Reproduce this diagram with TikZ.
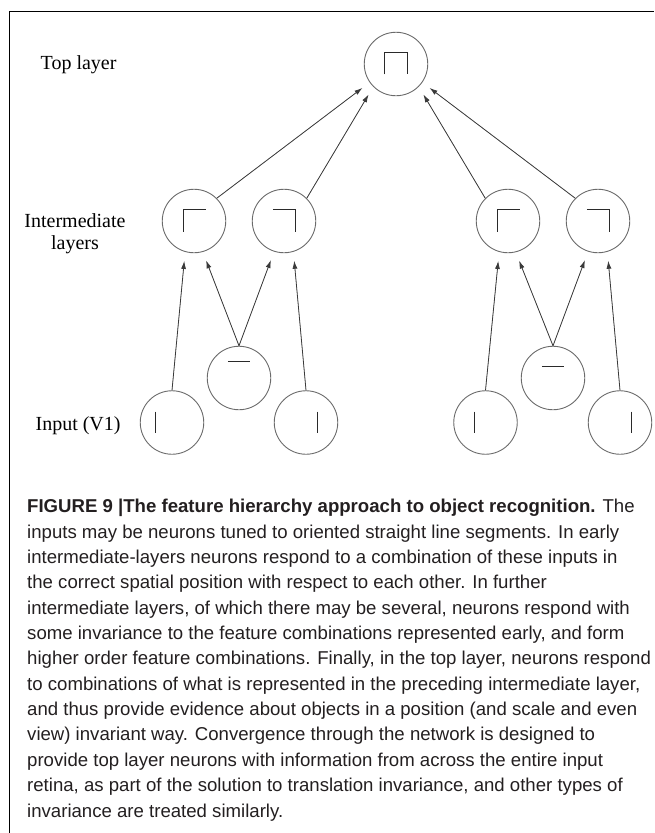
\documentclass[tikz,border=0pt]{standalone}
\usepackage{fontspec}
\setmainfont{Liberation Serif}
\newfontfamily\capfont{Liberation Sans}
\usepackage{tikz}
\usetikzlibrary{arrows.meta,calc}
\definecolor{rim}{HTML}{6B6B6B}
\definecolor{wire}{HTML}{3A3A3A}
\definecolor{ink}{HTML}{2A2A2A}
\definecolor{body}{HTML}{231F20}
\tikzset{
  neuron/.style = {circle, draw=rim, line width=0.9pt, minimum size=63.5pt,
                   inner sep=0pt},
  feat/.style   = {draw=ink, line width=1.4pt},
  lab/.style    = {font=\fontsize{20}{22}\selectfont, inner sep=0pt},
  up/.style     = {-{Latex[length=8pt,width=5pt]}, draw=wire, fill=wire,
                   line width=0.8pt, shorten >=9pt},
  note/.style   = {font=\capfont\fontsize{18.6}{25.35}\selectfont, text=body,
                   align=left, inner sep=0pt},
}
\begin{document}
\begin{tikzpicture}[x=1pt,y=-1pt]
    \useasboundingbox (0,0) rectangle (654,833);
    \draw[black,line width=0.9pt] (9.3,833) -- (9.3,11.7) -- (654,11.7);
    % layer names
    \node[lab,anchor=base west] (ltop) at (40.5,69) {Top layer};
    \node[lab,anchor=north,align=center] (lmid) at (75,213.3) {Intermediate\\layers};
    \node[lab,anchor=base west] (lin) at (35.4,430) {Input (V1)};
    % neurons
    \node[neuron] (top) at (396,64) {};
    \node[neuron] (i1) at (194,221) {};
    \node[neuron] (i2) at (284,221) {};
    \node[neuron] (i3) at (508,221) {};
    \node[neuron] (i4) at (598,221) {};
    \node[neuron] (m1) at (239,378) {};
    \node[neuron] (m2) at (553,378) {};
    \node[neuron] (in1) at (172,422.5) {};
    \node[neuron] (in2) at (306,422.5) {};
    \node[neuron] (in3) at (485.5,422.5) {};
    \node[neuron] (in4) at (620,422.5) {};
    % preferred features
    \draw[feat] ($(top)+(-11.7,10.3)$) -- ++(0,-22) -- ++(23.4,0) -- ++(0,22);
    \foreach \n in {i1,i3}{
      \draw[feat] ($(\n)+(-10.8,10.7)$) -- ++(0,-22.4) -- ++(22.5,0);}
    \foreach \n in {i2,i4}{
      \draw[feat] ($(\n)+(-11.2,-11.7)$) -- ++(22.6,0) -- ++(0,22.4);}
    \draw[feat] ($(m1)+(-11.2,-16.5)$) -- ++(22.4,0);
    \draw[feat] ($(m2)+(-11.2,-11.4)$) -- ++(22.4,0);
    \foreach \n/\dx in {in1/-16.5,in2/11.7,in3/-11.3,in4/11.7}{
      \draw[feat] ($(\n)+(\dx,-11)$) -- ++(0,21.8);}
    % convergence
    \draw[up] (i1.north east) -- (top.215);
    \draw[up] (i2.north east) -- (top.225);
    \draw[up] (i3.north west) -- (top.315);
    \draw[up] (i4.north west) -- (top.325);
    \draw[up] (in1.north) -- (i1.254);
    \draw[up] (m1.north) -- (i1.286);
    \draw[up] (m1.north) -- (i2.252);
    \draw[up] (in2.north) -- (i2.287);
    \draw[up] (in3.north) -- (i3.254);
    \draw[up] (m2.north) -- (i3.284);
    \draw[up] (m2.north) -- (i4.252);
    \draw[up] (in4.north) -- (i4.287);
    % caption (base = last line)
    \node[note,anchor=base west] (capt) at (27,817) {%
      \textbf{FIGURE 9 |The feature hierarchy approach to object recognition.} The\\
      inputs may be neurons tuned to oriented straight line segments. In early\\
      intermediate-layers neurons respond to a combination of these inputs in\\
      the correct spatial position with respect to each other. In further\\
      intermediate layers, of which there may be several, neurons respond with\\
      some invariance to the feature combinations represented early, and form\\
      higher order feature combinations. Finally, in the top layer, neurons respond\\
      to combinations of what is represented in the preceding intermediate layer,\\
      and thus provide evidence about objects in a position (and scale and even\\
      view) invariant way. Convergence through the network is designed to\\
      provide top layer neurons with information from across the entire input\\
      retina, as part of the solution to translation invariance, and other types of\\
      invariance are treated similarly.};
\end{tikzpicture}
\end{document}
